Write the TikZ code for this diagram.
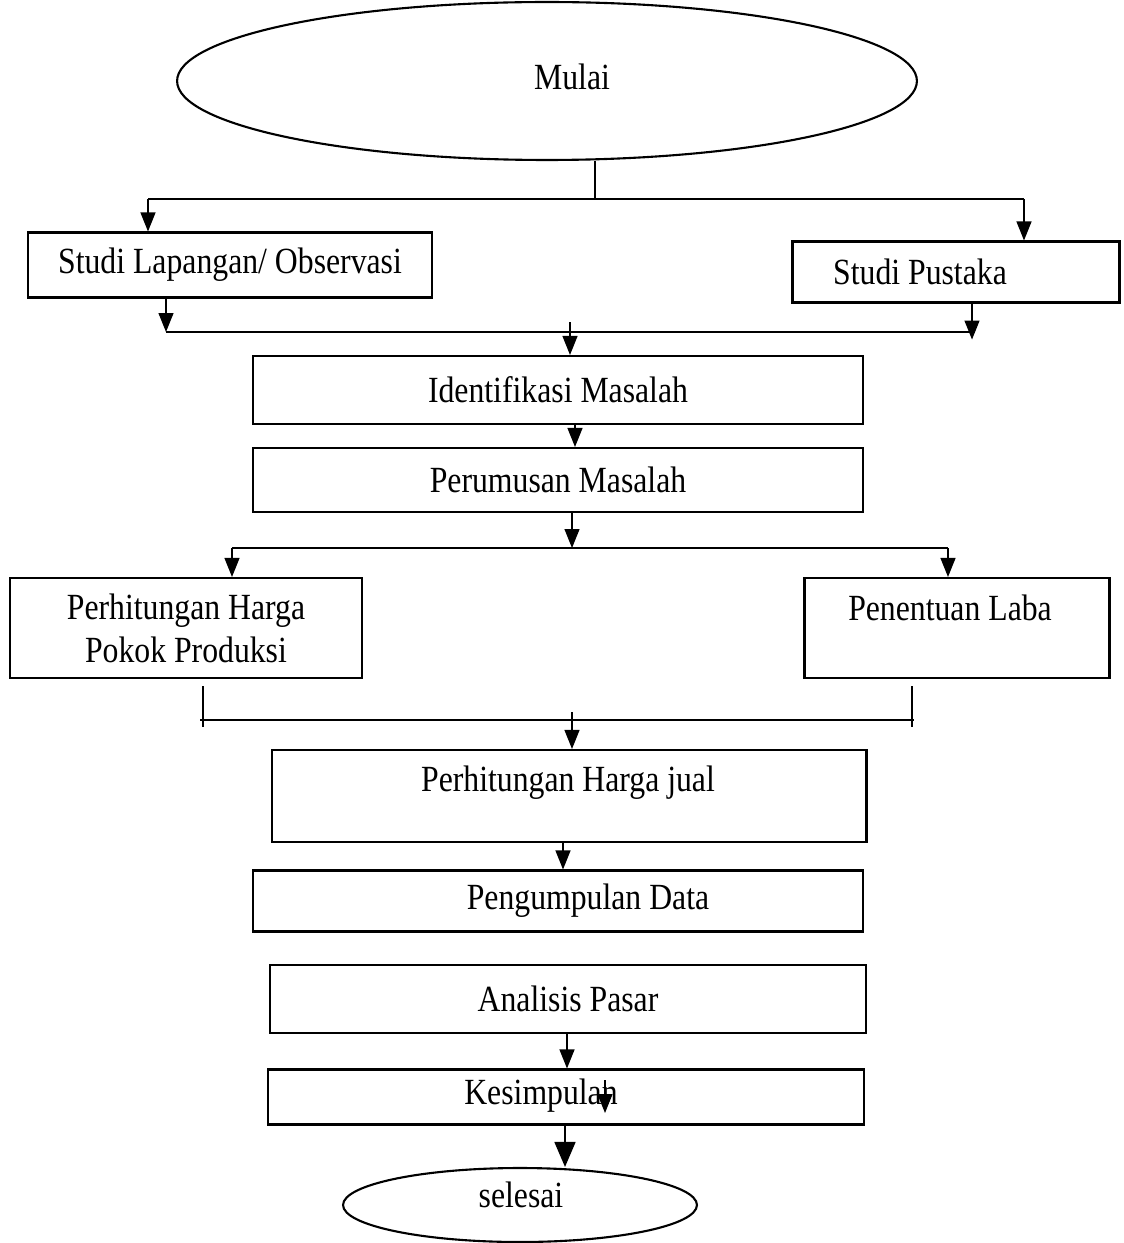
\documentclass[tikz,border=0pt]{standalone}
\usepackage{fontspec}
\setmainfont[FakeStretch=0.86]{Liberation Serif}
\usetikzlibrary{arrows.meta, shapes.geometric, positioning}

\begin{document}
\begin{tikzpicture}[x=0.02cm, y=-0.02cm]
	\tikzset {every node/.style={font=\fontsize{21}{24.5}\selectfont}, box/.style={draw, rectangle, line width=1.2pt, inner sep=0pt, align=center}, term/.style={draw, ellipse, line width=1.2pt, inner sep=0pt}, arr/.style={line width=0.7pt, -{Triangle[length=3.8mm, width=3mm]}}, bigarr/.style={line width=0.9pt, -{Triangle[length=5mm, width=4.2mm]}}, link/.style={line width=0.7pt} }

	\useasboundingbox (0,0) rectangle (1123,1243);

	\node[term, minimum width=14.8cm, minimum height=3.16cm] (mulai) at (547,81) {};
	\node (mulaiT) at (572,77) {Mulai};

	\node[box, minimum width=8.08cm, minimum height=1.3cm] (lap) at (230,265) {Studi Lapangan/ Observasi};
	\node[box, minimum width=6.54cm, minimum height=1.22cm] (pus) at (956,272) {};
	\node (pusT) at (920,272) {Studi Pustaka};

	\node[box, minimum width=12.2cm, minimum height=1.36cm] (iden) at (558,390) {Identifikasi Masalah};
	\node[box, minimum width=12.2cm, minimum height=1.28cm] (rum) at (558,480) {Perumusan Masalah};

	\node[box, minimum width=7.04cm, minimum height=2cm] (hpp) at (186,628) {Perhitungan Harga\\Pokok Produksi};
	\node[box, minimum width=6.1cm, minimum height=2cm] (laba) at (957,628) {};
	\node (labaT) at (950,608) {Penentuan Laba};

	\node[box, minimum width=11.9cm, minimum height=1.84cm] (jual) at (569,796) {};
	\node (jualT) at (568,783) {Perhitungan Harga jual};
	\node[box, minimum width=12.2cm, minimum height=1.22cm] (peng) at (558,901) {};
	\node (pengT) at (588,901) {Pengumpulan Data};
	\node[box, minimum width=11.92cm, minimum height=1.36cm] (anal) at (568,999) {Analisis Pasar};
	\node[box, minimum width=11.92cm, minimum height=1.1cm] (kes) at (566,1097) {};
	\node (kesT) at (541,1096) {Kesimpulan};

	\node[term, minimum width=7.08cm, minimum height=1.48cm] (sel) at (520,1205) {};
	\node (selT) at (521,1195) {selesai};

	\coordinate (a0) at (595,199);
	\coordinate (a1) at (148,199);
	\coordinate (a2) at (1024,199);
	\draw[link] (a0 |- mulai.south) -- (a0);
	\draw[link] (a1) -- (a2);
	\draw[arr] (a1) -- (a1 |- lap.north);
	\draw[arr] (a2) -- (a2 |- pus.north);

	\coordinate (b0) at (570,322);
	\coordinate (b1) at (166,332);
	\coordinate (b2) at (972,332);
	\draw[link] (b1) -- (b2);
	\draw[arr] (b1 |- lap.south) -- (b1);
	\draw[arr] (b2 |- pus.south) -- ++(0,36);
	\draw[arr] (b0) -- (b0 |- iden.north);

	\coordinate (c0) at (575,0);
	\draw[arr] (c0 |- iden.south) -- (c0 |- rum.north);

	\coordinate (d0) at (572,548);
	\coordinate (d1) at (232,548);
	\coordinate (d2) at (948,548);
	\draw[arr] (d0 |- rum.south) -- (d0);
	\draw[link] (d1) -- (d2);
	\draw[arr] (d1) -- (d1 |- hpp.north);
	\draw[arr] (d2) -- (d2 |- laba.north);

	\coordinate (e0) at (572,712);
	\coordinate (e1) at (200,720);
	\coordinate (e2) at (914,720);
	\draw[link] (e1) -- (e2);
	\draw[link] (e1) ++(3,-34) -- ++(0,41);
	\draw[link] (e2) ++(-2,-34) -- ++(0,41);
	\draw[arr] (e0) -- (e0 |- jual.north);

	\coordinate (f0) at (563,0);
	\draw[arr] (f0 |- jual.south) -- (f0 |- peng.north);
	\coordinate (g0) at (567,0);
	\draw[arr] (g0 |- anal.south) -- (g0 |- kes.north);
	\coordinate (h0) at (605,1080);
	\draw[arr] (h0) -- ++(0,33);
	\coordinate (k0) at (565,0);
	\draw[bigarr] (k0 |- kes.south) -- (k0 |- sel.north);
\end{tikzpicture}
\end{document}
